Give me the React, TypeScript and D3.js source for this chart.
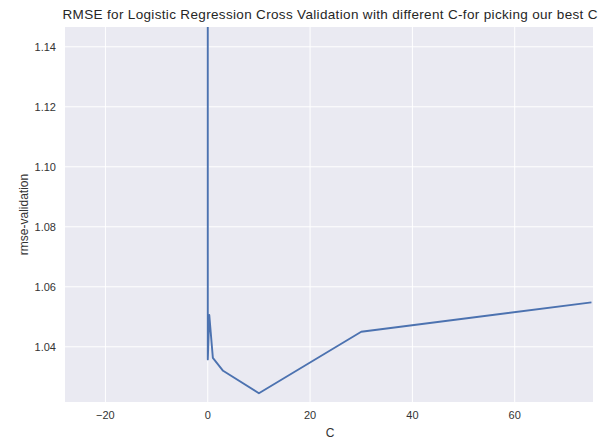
import React, { useEffect, useRef } from "react";
import * as d3 from "d3";

// C values tried and the rmse on validation
const cValues = [0.001, 0.01, 0.3, 1, 3, 10, 30, 75];
const rmseValues = [1.3, 1.0358, 1.0506, 1.0363, 1.032, 1.0245, 1.045, 1.0548];
const xTicks = [-20, 0, 20, 40, 60];
const yTicks = [1.04, 1.06, 1.08, 1.1, 1.12, 1.14];

export default function App() {
  const svgRef = useRef<SVGSVGElement>(null);

  useEffect(() => {
    const w = 605;
    const h = 440;
    const margin = { top: 27, right: 12, bottom: 38, left: 65 };
    const svg = d3.select(svgRef.current)
      .attr("width", w)
      .attr("height", h)
      .style("display", "block")
      .style("font-family", "'Liberation Sans', Arial, sans-serif");
    svg.selectAll("*").remove();

    const x = d3.scaleLinear().domain([-27.9, 75.3]).range([margin.left, w - margin.right]);
    const y = d3.scaleLinear().domain([1.0216, 1.1466]).range([h - margin.bottom, margin.top]);

    svg.append("rect")
      .attr("x", margin.left)
      .attr("y", margin.top)
      .attr("width", w - margin.left - margin.right)
      .attr("height", h - margin.top - margin.bottom)
      .attr("fill", "#eaeaf2");

    svg.append("clipPath").attr("id", "plotclip")
      .append("rect")
      .attr("x", margin.left)
      .attr("y", margin.top)
      .attr("width", w - margin.left - margin.right)
      .attr("height", h - margin.top - margin.bottom);

    // grid
    svg.append("g").selectAll("line")
      .data(xTicks)
      .join("line")
      .attr("x1", d => x(d)).attr("x2", d => x(d))
      .attr("y1", margin.top).attr("y2", h - margin.bottom)
      .attr("stroke", "#fff").attr("stroke-width", 1);
    svg.append("g").selectAll("line")
      .data(yTicks)
      .join("line")
      .attr("y1", d => y(d)).attr("y2", d => y(d))
      .attr("x1", margin.left).attr("x2", w - margin.right)
      .attr("stroke", "#fff").attr("stroke-width", 1);

    // tick labels
    svg.append("g").selectAll("text")
      .data(xTicks)
      .join("text")
      .attr("x", d => x(d))
      .attr("y", h - margin.bottom + 16.5)
      .attr("text-anchor", "middle")
      .attr("font-size", 11)
      .attr("fill", "#333")
      .text(d => (d < 0 ? "\u2212" + Math.abs(d) : String(d)));
    svg.append("g").selectAll("text")
      .data(yTicks)
      .join("text")
      .attr("x", margin.left - 9)
      .attr("y", d => y(d) + 4)
      .attr("text-anchor", "end")
      .attr("font-size", 11)
      .attr("fill", "#333")
      .text(d => d.toFixed(2));

    // line
    const line = d3.line<number>()
      .x((d, i) => x(cValues[i]))
      .y(d => y(d));
    svg.append("path")
      .datum(rmseValues)
      .attr("clip-path", "url(#plotclip)")
      .attr("d", line)
      .attr("fill", "none")
      .attr("stroke", "#4c72b0")
      .attr("stroke-width", 1.9)
      .attr("stroke-linejoin", "round");

    // labels
    svg.append("text")
      .attr("x", 330)
      .attr("y", 18.5)
      .attr("text-anchor", "middle")
      .attr("font-size", 13.5)
      .attr("textLength", 535)
      .attr("lengthAdjust", "spacing")
      .attr("fill", "#262626")
      .text("RMSE for Logistic Regression Cross Validation with different C-for picking our best C");
    svg.append("text")
      .attr("x", 330)
      .attr("y", 437)
      .attr("text-anchor", "middle")
      .attr("font-size", 12)
      .attr("fill", "#333")
      .text("C");
    svg.append("text")
      .attr("transform", `translate(28,${(margin.top + h - margin.bottom) / 2}) rotate(-90)`)
      .attr("text-anchor", "middle")
      .attr("font-size", 12)
      .attr("fill", "#333")
      .text("rmse-validation");
  }, []);

  return (
    <div style={{ position: "absolute", left: 0, top: 0 }}>
      <svg ref={svgRef}></svg>
    </div>
  );
}
